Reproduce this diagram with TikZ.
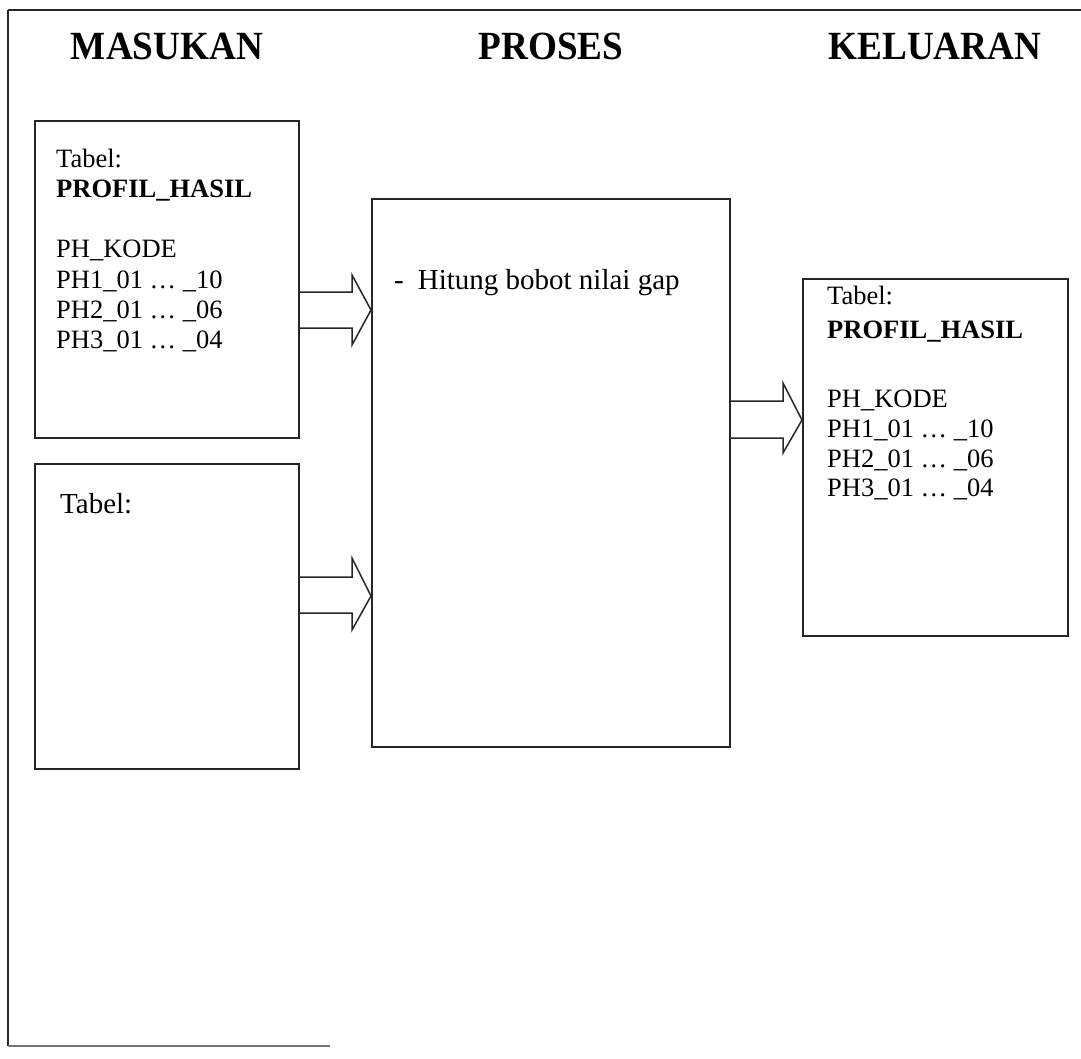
\documentclass[tikz,border=0pt]{standalone}
\usepackage{fontspec}
\setmainfont{Liberation Serif}
\begin{document}
\begin{tikzpicture}[x=1pt,y=-1pt,
  frame/.style={draw=black!85, line width=1.4pt},
  box/.style={draw=black!85, line width=1.6pt, rectangle, inner sep=0pt, anchor=north west},
  title/.style={anchor=base, inner sep=0pt, font=\fontsize{40}{44}\selectfont\bfseries},
  txt/.style={anchor=base west, inner sep=0pt, font=\fontsize{26.5}{30}\selectfont},
  btxt/.style={anchor=base west, inner sep=0pt, font=\fontsize{26.5}{30}\selectfont\bfseries},
  ptxt/.style={anchor=base west, inner sep=0pt, font=\fontsize{29}{32}\selectfont},
  blockarrow/.style={draw=black!85, line width=1.5pt, line join=miter}
]
\useasboundingbox (0,0) rectangle (1081,1059);
\fill[white] (0,0) rectangle (1081,1059);
% outer frame
\draw[line width=2.2pt, black!85] (1081,10) -- (8,10);
\draw[frame] (8,10) -- (8,1046);
\draw[line width=1.2pt, black!55] (8,1046) -- (330,1046);

% titles
\node[title] (tin) at (167,60) {\scalebox{0.93}[1]{MASUKAN}};
\node[title] (tpr) at (551,60) {\scalebox{0.93}[1]{PROSES}};
\node[title] (tout) at (935,60) {\scalebox{0.93}[1]{KELUARAN}};

% boxes
\node[box, minimum width=264pt, minimum height=317pt] (b1) at (34,120) {};
\node[box, minimum width=264pt, minimum height=305pt] (b2) at (34,463) {};
\node[box, minimum width=358pt, minimum height=548pt] (pr) at (371,198) {};
\node[box, minimum width=265pt, minimum height=357pt] (out) at (802,278) {};

% box 1 text
\node[txt] (b1t1) at (56,168) {Tabel:};
\node[btxt] (b1t2) at (56,198) {PROFIL\_HASIL};
\node[txt] (b1t3) at (56,258) {PH\_KODE};
\node[txt] (b1t4) at (56,288) {PH1\_01 … \_10};
\node[txt] (b1t5) at (56,318) {PH2\_01 … \_06};
\node[txt] (b1t6) at (56,348) {PH3\_01 … \_04};

% box 2 text
\node[ptxt] (b2t1) at (60,513) {Tabel:};

% process text
\node[ptxt] (prt) at (394,289) {-\hspace{14pt}Hitung bobot nilai gap};

% output box text
\node[txt] (ot1) at (827,304) {Tabel:};
\node[btxt] (ot2) at (827,338) {PROFIL\_HASIL};
\node[txt] (ot3) at (827,407) {PH\_KODE};
\node[txt] (ot4) at (827,437) {PH1\_01 … \_10};
\node[txt] (ot5) at (827,467) {PH2\_01 … \_06};
\node[txt] (ot6) at (827,496) {PH3\_01 … \_04};

% block arrows
\draw[blockarrow] (b1.east |- 0,292) -- (352,292) -- (352,275) -- (pr.west |- 0,310)
  -- (352,345) -- (352,328) -- (b1.east |- 0,328);
\draw[blockarrow] (b2.east |- 0,577) -- (352,577) -- (352,558) -- (pr.west |- 0,596)
  -- (352,630) -- (352,613) -- (b2.east |- 0,613);
\draw[blockarrow] (pr.east |- 0,401) -- (783,401) -- (783,383) -- (out.west |- 0,420)
  -- (783,453) -- (783,438) -- (pr.east |- 0,438);
\end{tikzpicture}
\end{document}
